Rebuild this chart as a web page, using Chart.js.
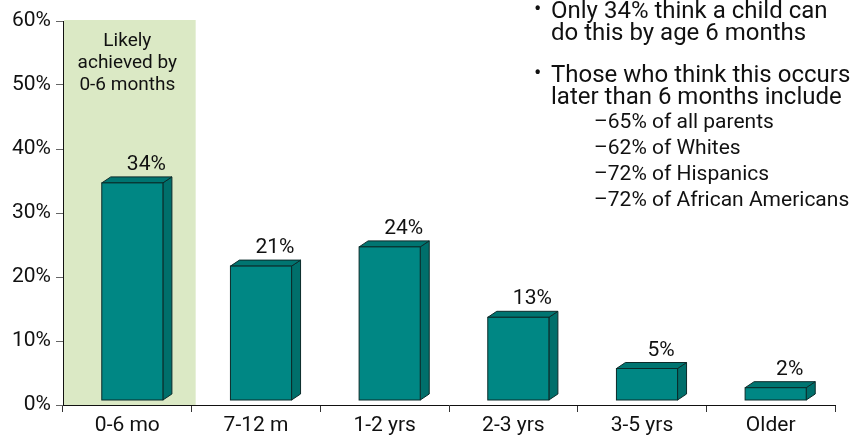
<!DOCTYPE html>
<html>
<head>
<meta charset="utf-8">
<script src="https://cdn.jsdelivr.net/npm/chart.js@4"></script>
<style>
  html, body { margin: 0; padding: 0; background: #fff; overflow: hidden; }
</style>
</head>
<body>
<canvas id="chart" width="857" height="436"></canvas>
<script>
// data
const categories = ["0-6 mo", "7-12 m", "1-2 yrs", "2-3 yrs", "3-5 yrs", "Older"];
const percents = [34, 21, 24, 13, 5, 2];
const yTicks = [0, 10, 20, 30, 40, 50, 60];
const bandText = ["Likely", "achieved by", "0-6 months"];
const bullets = [
  ["Only 34% think a child can", "do this by age 6 months"],
  ["Those who think this occurs", "later than 6 months include"]
];
const subLines = ["\u201365% of all parents", "\u201362% of Whites", "\u201372% of Hispanics", "\u201372% of African Americans"];

const FONT = "Roboto, 'Liberation Sans', sans-serif";
const TEXT = "#111";

// green band behind first category
const bandPlugin = {
  id: "band",
  beforeDatasetsDraw(chart) {
    const ctx = chart.ctx;
    const x = chart.scales.x, y = chart.scales.y;
    const cat = x.width / categories.length;
    ctx.save();
    ctx.fillStyle = "#dbe9c5";
    ctx.fillRect(x.left + 1, y.top - 1, cat + 3, y.bottom - y.top + 1);
    ctx.fillStyle = TEXT;
    ctx.font = "19px " + FONT;
    ctx.textAlign = "center";
    ctx.textBaseline = "alphabetic";
    const cx = x.left + cat / 2;
    bandText.forEach((t, i) => ctx.fillText(t, cx, y.top + 25 + i * 22));
    ctx.restore();
  }
};

// pseudo 3D boxes + value labels
const boxPlugin = {
  id: "box3d",
  afterDatasetsDraw(chart) {
    const ctx = chart.ctx;
    const meta = chart.getDatasetMeta(0);
    const dx = 9, dy = 6, ox = 5, oy = -4.5;
    ctx.save();
    ctx.lineWidth = 1;
    ctx.strokeStyle = "#0b2b2a";
    meta.data.forEach((el, i) => {
      const l = el.x - el.width / 2 + ox, r = el.x + el.width / 2 + ox;
      const t = el.y + oy, b = el.base + oy;
      // side
      ctx.fillStyle = "#006f6b";
      ctx.beginPath();
      ctx.moveTo(r, b); ctx.lineTo(r + dx, b - dy); ctx.lineTo(r + dx, t - dy); ctx.lineTo(r, t);
      ctx.closePath(); ctx.fill(); ctx.stroke();
      // top
      ctx.fillStyle = "#007571";
      ctx.beginPath();
      ctx.moveTo(l, t); ctx.lineTo(l + dx, t - dy); ctx.lineTo(r + dx, t - dy); ctx.lineTo(r, t);
      ctx.closePath(); ctx.fill(); ctx.stroke();
      // front
      ctx.fillStyle = "#008784";
      ctx.fillRect(l, t, r - l, b - t);
      ctx.strokeRect(l, t, r - l, b - t);
      // label
      ctx.fillStyle = TEXT;
      ctx.font = "21px " + FONT;
      ctx.textAlign = "center";
      ctx.textBaseline = "alphabetic";
      ctx.fillText(percents[i] + "%", (l + r) / 2 + 14, t - dy - 7);
    });
    ctx.restore();
  }
};

// bullet notes at top right
const notesPlugin = {
  id: "notes",
  afterDraw(chart) {
    const ctx = chart.ctx;
    ctx.save();
    ctx.fillStyle = TEXT;
    ctx.textAlign = "left";
    ctx.textBaseline = "alphabetic";
    const tops = [18, 82];
    bullets.forEach((lines, k) => {
      ctx.font = "22px " + FONT;
      ctx.fillText("\u2022", 534, tops[k] - 2);
      ctx.font = "24px " + FONT;
      lines.forEach((s, i) => ctx.fillText(s, 551, tops[k] + i * 22));
    });
    ctx.font = "21px " + FONT;
    subLines.forEach((s, i) => ctx.fillText(s, 594, 128 + i * 26));
    ctx.restore();
  }
};

new Chart(document.getElementById("chart"), {
  type: "bar",
  data: {
    labels: categories,
    datasets: [{
      data: percents,
      backgroundColor: "rgba(0,0,0,0)",
      borderWidth: 0,
      barPercentage: 0.95,
      categoryPercentage: 0.5
    }]
  },
  options: {
    responsive: false,
    animation: false,
    devicePixelRatio: 1,
    layout: { padding: { top: 21, right: 22, left: 0, bottom: 0 } },
    plugins: { legend: { display: false }, tooltip: { enabled: false } },
    scales: {
      x: {
        grid: { offset: true, drawOnChartArea: false, tickLength: 7, color: "#333" },
        border: { color: "#111", width: 1 },
        ticks: { color: TEXT, font: { family: FONT, size: 21 }, padding: 1, maxRotation: 0 },
        afterFit(s) { s.height = 31; }
      },
      y: {
        min: 0, max: 60,
        afterBuildTicks(s) { s.ticks = yTicks.map(v => ({ value: v })); },
        grid: { drawOnChartArea: false, tickLength: 7, color: "#666" },
        border: { color: "#111", width: 1 },
        ticks: { color: TEXT, font: { family: FONT, size: 21 }, padding: 5, callback: v => v + "%" },
        afterFit(s) { s.width = 63; }
      }
    }
  },
  plugins: [bandPlugin, boxPlugin, notesPlugin]
});
</script>
</body>
</html>
